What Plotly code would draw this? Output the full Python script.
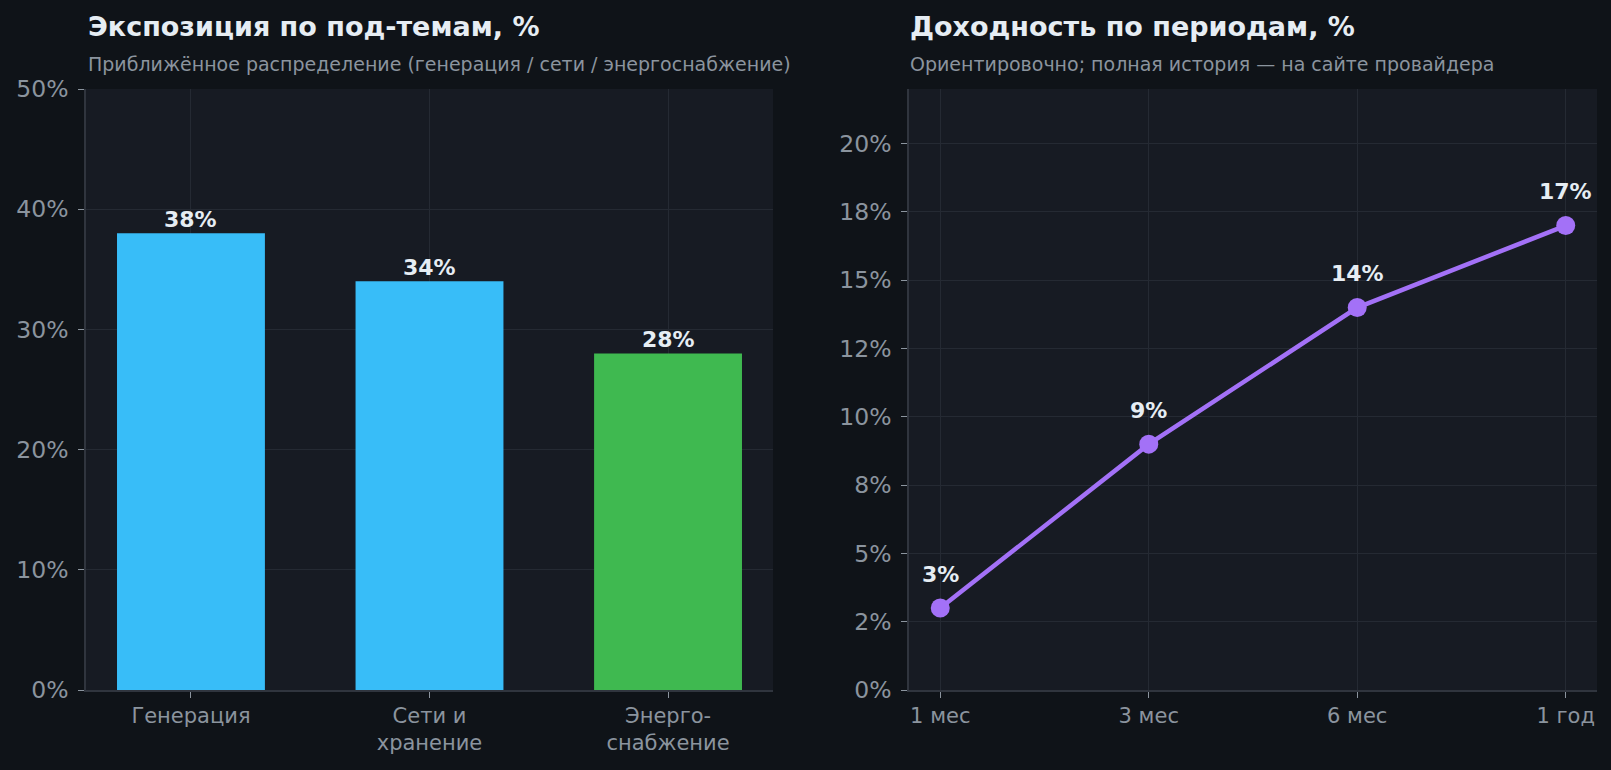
# -*- coding: utf-8 -*-
"""Two-panel dark chart: sub-theme exposure (bars) and period returns (line)."""

import plotly.graph_objects as go

# -- Data
exposure_categories = ["Генерация", "Сети и<br>хранение", "Энерго-<br>снабжение"]
exposure_values = [38, 34, 28]
exposure_ticks = [0, 10, 20, 30, 40, 50]
exposure_tick_labels = ["0%", "10%", "20%", "30%", "40%", "50%"]

periods = ["1 мес", "3 мес", "6 мес", "1 год"]
period_returns = [3, 9, 14, 17]
return_ticks = [0, 2.5, 5, 7.5, 10, 12.5, 15, 17.5, 20]
return_tick_labels = ["0%", "2%", "5%", "8%", "10%", "12%", "15%", "18%", "20%"]

# -- Styling
W, H = 1611, 770
PAPER_BG = "#0f1318"
PLOT_BG = "#171b23"
GRID = "#252a33"
SPINE = "#30353e"
TEXT = "#e6edf3"
MUTED = "#8b949e"
BLUE = "#38bdf8"
GREEN = "#3fb950"
PURPLE = "#a371f7"
FONT = "DejaVu Sans"

bar_colors = [BLUE, BLUE, GREEN]


def px_x(x):
    return x / W


def px_y(y):
    return 1 - y / H


fig = go.Figure()

fig.add_trace(
    go.Bar(
        x=exposure_categories,
        y=exposure_values,
        marker=dict(color=bar_colors, line=dict(width=0)),
        width=0.62,
        xaxis="x",
        yaxis="y",
        hoverinfo="skip",
    )
)

fig.add_trace(
    go.Scatter(
        x=periods,
        y=period_returns,
        mode="lines+markers",
        line=dict(color=PURPLE, width=4.5),
        marker=dict(color=PURPLE, size=19),
        xaxis="x2",
        yaxis="y2",
        hoverinfo="skip",
    )
)

annotations = []
for cat, val in zip(exposure_categories, exposure_values):
    annotations.append(
        dict(
            x=cat, y=val, xref="x", yref="y", text=f"<b>{val}%</b>",
            showarrow=False, yanchor="middle", yshift=14,
            font=dict(family=FONT, size=22, color=TEXT),
        )
    )
for per, val in zip(periods, period_returns):
    annotations.append(
        dict(
            x=per, y=val, xref="x2", yref="y2", text=f"<b>{val}%</b>",
            showarrow=False, yanchor="middle", yshift=34,
            font=dict(family=FONT, size=22, color=TEXT),
        )
    )

# -- Panel titles
for left, title, subtitle in [
    (86, "Экспозиция по под-темам, %", "Приближённое распределение (генерация / сети / энергоснабжение)"),
    (908, "Доходность по периодам, %", "Ориентировочно; полная история — на сайте провайдера"),
]:
    annotations.append(
        dict(
            x=px_x(left), y=px_y(27), xref="paper", yref="paper",
            xanchor="left", yanchor="middle", showarrow=False,
            text=f"<b>{title}</b>",
            font=dict(family=FONT, size=27, color=TEXT),
        )
    )
    annotations.append(
        dict(
            x=px_x(left), y=px_y(64), xref="paper", yref="paper",
            xanchor="left", yanchor="middle", showarrow=False,
            text=subtitle,
            font=dict(family=FONT, size=19, color=MUTED),
        )
    )

axis_common = dict(
    showgrid=True,
    gridcolor=GRID,
    gridwidth=1,
    zeroline=False,
    showline=True,
    linecolor=SPINE,
    linewidth=1.5,
    ticks="outside",
    ticklen=6,
    tickcolor=MUTED,
    tickwidth=1,
    automargin=False,
)

fig.update_layout(
    width=W,
    height=H,
    margin=dict(l=0, r=0, t=0, b=0, autoexpand=False),
    paper_bgcolor=PAPER_BG,
    plot_bgcolor=PLOT_BG,
    showlegend=False,
    font=dict(family=FONT, color=MUTED),
    annotations=annotations,
    xaxis=dict(
        axis_common,
        domain=[px_x(86), px_x(773)],
        anchor="y",
        type="category",
        range=[-0.44, 2.44],
        tickfont=dict(size=21, color=MUTED),
    ),
    yaxis=dict(
        axis_common,
        domain=[px_y(690), px_y(89)],
        anchor="x",
        range=[0, 50],
        tickvals=exposure_ticks,
        ticktext=exposure_tick_labels,
        tickfont=dict(size=23.5, color=MUTED),
        ticklabelstandoff=5,
    ),
    xaxis2=dict(
        axis_common,
        domain=[px_x(909), px_x(1597)],
        anchor="y2",
        type="category",
        range=[-0.15, 3.15],
        tickfont=dict(size=21, color=MUTED),
    ),
    yaxis2=dict(
        axis_common,
        domain=[px_y(690), px_y(89)],
        anchor="x2",
        range=[0, 22],
        tickvals=return_ticks,
        ticktext=return_tick_labels,
        tickfont=dict(size=23.5, color=MUTED),
        ticklabelstandoff=5,
    ),
)

fig.write_html(
    "out.html",
    config={"displayModeBar": False},
    post_script="document.body.style.margin='0';document.body.style.overflow='hidden';",
)
